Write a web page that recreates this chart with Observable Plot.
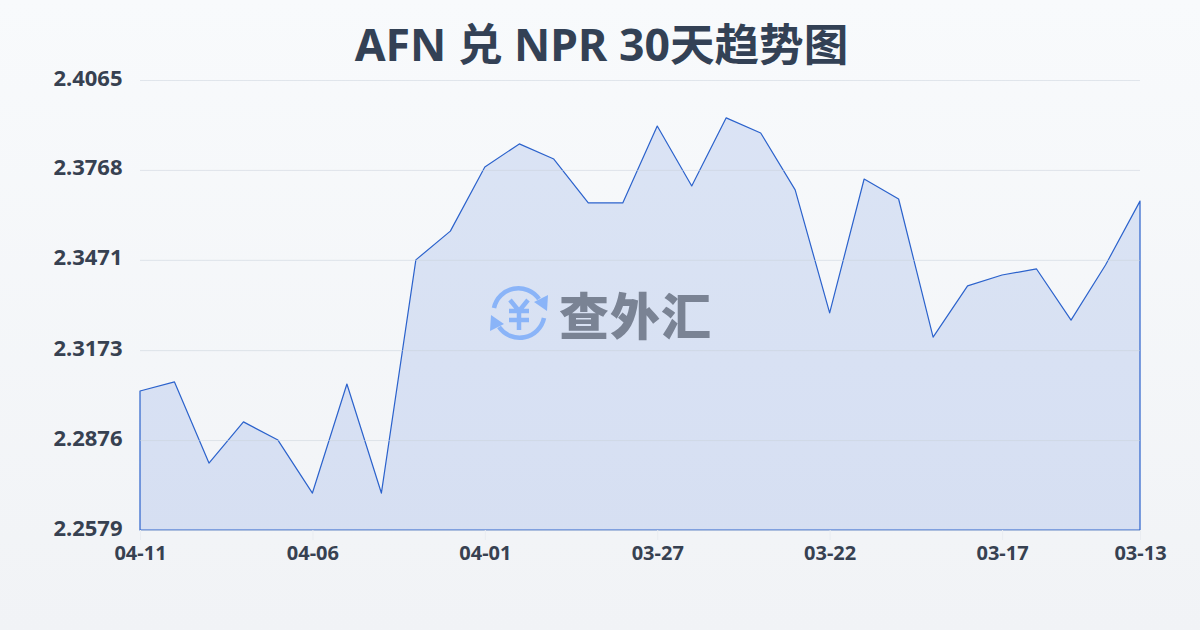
<!DOCTYPE html>
<html><head><meta charset="utf-8">
<script src="https://cdn.jsdelivr.net/npm/d3@7"></script>
<script src="https://cdn.jsdelivr.net/npm/@observablehq/plot@0.6"></script>
<style>
html,body{margin:0;padding:0;width:1200px;height:630px;overflow:hidden}
body{background:linear-gradient(180deg,#f8fafc,#f1f3f6);position:relative;font-family:"Noto Sans","Noto Sans CJK SC",sans-serif}
#title{box-sizing:border-box;margin:0 0 -30px;padding:15px 0 0 3px;height:90px;text-align:center;color:#334155;font:700 44.6px/58px "Noto Sans","Noto Sans CJK SC",sans-serif}
#chart svg{display:block;background:transparent}
#mark{position:absolute;left:489px;top:284px;display:flex;align-items:center;gap:10px}
#mark span{font:900 50px/58px "Noto Sans CJK SC",sans-serif;color:#7a8394;letter-spacing:1px}
</style></head><body>
<h1 id="title">AFN 兑 NPR 30天趋势图</h1>
<div id="chart"></div>
<div id="mark"><svg width="60" height="58" viewBox="0 0 60 58" fill="none">
<g stroke="#8ab4f8" stroke-width="4.5" fill="none"><path d="M5 24A25 25 0 0 1 50 15"/><path d="M55 34A25 25 0 0 1 10 43"/></g>
<path d="M58 27L59 11L45 18Z M2 31L1 47L15 40Z" fill="#8ab4f8"/>
<path d="M21 16L30 27L39 16M20 27H40M20 36H40M30 27V46" stroke="#8ab4f8" stroke-width="4.5"/></svg><span>查外汇</span></div>
<script>
const dates = ["04-11","04-10","04-09","04-08","04-07","04-06","04-05","04-04","04-03","04-02","04-01","03-31","03-30","03-29","03-28","03-27","03-26","03-25","03-24","03-23","03-22","03-21","03-20","03-19","03-18","03-17","03-16","03-15","03-14","03-13"];
const rates = [2.3038,2.3068,2.2800,2.2936,2.2876,2.2701,2.3061,2.2701,2.3471,2.3566,2.3778,2.3854,2.3804,2.3659,2.3659,2.3913,2.3715,2.3940,2.3890,2.3702,2.3296,2.3738,2.3672,2.3216,2.3385,2.3421,2.3441,2.3272,2.3454,2.3665];
const yTicks = [2.4065,2.3768,2.3471,2.3173,2.2876,2.2579];
const xTicks = ["04-11","04-06","04-01","03-27","03-22","03-17","03-13"];
const rows = dates.map((d,i)=>({d,v:rates[i]}));
const chart = Plot.plot({
  width:1200,height:570,marginTop:20,marginLeft:140,marginRight:60,marginBottom:100,
  style:{background:"transparent",overflow:"visible"},
  x:{type:"point",domain:dates,padding:0,round:false},
  y:{domain:[2.2579,2.4065]},
  marks:[
    Plot.areaY(rows,{x:"d",y1:2.2579,y2:"v",fill:"#2f62d8",fillOpacity:0.14,stroke:"#2b62cc",strokeWidth:1.2,curve:"linear"}),
    Plot.ruleY(yTicks,{stroke:"#c9d1dc",strokeOpacity:0.5,strokeWidth:1}),
    Plot.axisY({ticks:yTicks,tickFormat:d=>d.toFixed(4),tickSize:0,tickPadding:18,dy:-2,label:null,fontSize:22,fontWeight:700,fill:"#374151",fontFamily:"Noto Sans"}),
    Plot.axisX({ticks:xTicks,tickSize:10,tickPadding:5,stroke:"#e9ecf1",label:null,fontSize:20,fontWeight:700,fill:"#374151",fontFamily:"Noto Sans"})
  ]
});
document.getElementById("chart").append(chart);
</script></body></html>
